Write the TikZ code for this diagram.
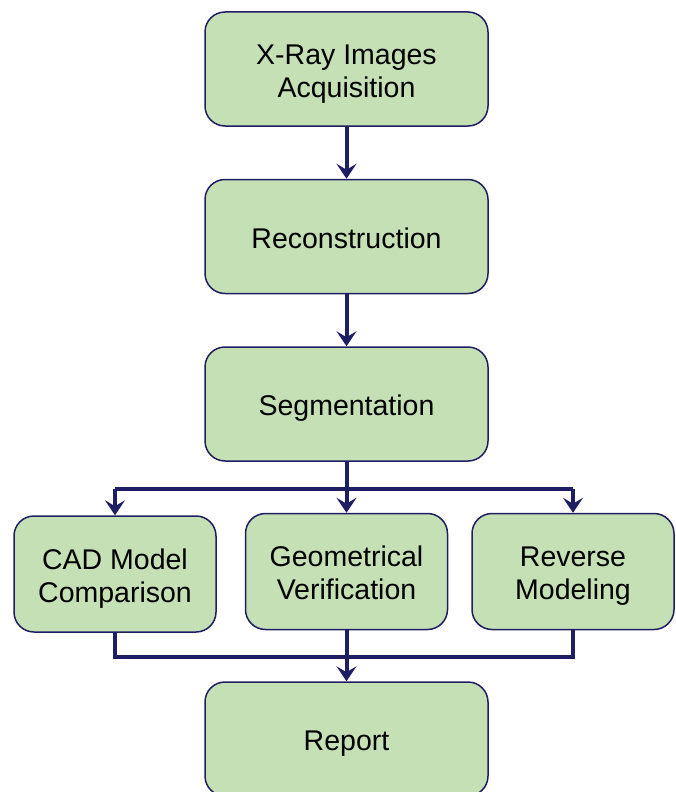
\documentclass[tikz,border=0pt]{standalone}
\usepackage{fontspec}
\setmainfont{Liberation Sans}
\usetikzlibrary{positioning,arrows.meta}
\definecolor{boxgreen}{RGB}{197,224,180}
\definecolor{navy}{RGB}{30,30,100}
\newcommand{\lift}{\rule{0pt}{33pt}}

\begin{document}
\begin{tikzpicture}[node distance=52pt,
  stage/.style={draw=navy, line width=1.5pt, fill=boxgreen, rounded corners=20pt,
    minimum width=283pt, minimum height=114pt, align=center,
    font=\fontsize{28.5}{33}\selectfont},
  branch/.style={stage, minimum width=202pt, minimum height=116pt},
  flow/.style={draw=navy, line width=4pt},
  arrow/.style={flow, -{Stealth[length=15pt,width=20pt,inset=6pt]}}]

  \useasboundingbox (0,0) rectangle (675pt,-792pt);

  \node[stage] (xray) at (346.5pt,-69pt) {\lift X-Ray Images\\Acquisition\strut};
  \node[stage, below=of xray] (recon) {\lift Reconstruction\strut};
  \node[stage, below=of recon] (seg) {\lift Segmentation\strut};
  \node[branch, below=51pt of seg] (geo) {\lift Geometrical\\Verification\strut};
  \node[branch, left=28pt of geo, yshift=-2.5pt] (cad) {\lift CAD Model\\Comparison\strut};
  \node[branch, right=23pt of geo] (rev) {\lift Reverse\\Modeling\strut};
  \node[stage, below=51pt of geo] (report) {\lift Report\strut};

  \draw[arrow] (xray) -- (recon);
  \draw[arrow] (recon) -- (seg);

  % split into the three checks
  \draw[flow] (seg.south) -- ++(0,-27pt) coordinate (split);
  \draw[flow] (split -| cad.north) -- (split -| rev.north);
  \draw[arrow] (split -| cad.north) -- (cad.north);
  \draw[arrow] (split) -- (geo.north);
  \draw[arrow] (split -| rev.north) -- (rev.north);

  % merge into the report
  \coordinate (join) at ([yshift=-27pt]geo.south);
  \draw[flow] (cad.south) -- (cad.south |- join) -- (rev.south |- join) -- (rev.south);
  \draw[arrow] (geo.south) -- (report.north);
\end{tikzpicture}
\end{document}
